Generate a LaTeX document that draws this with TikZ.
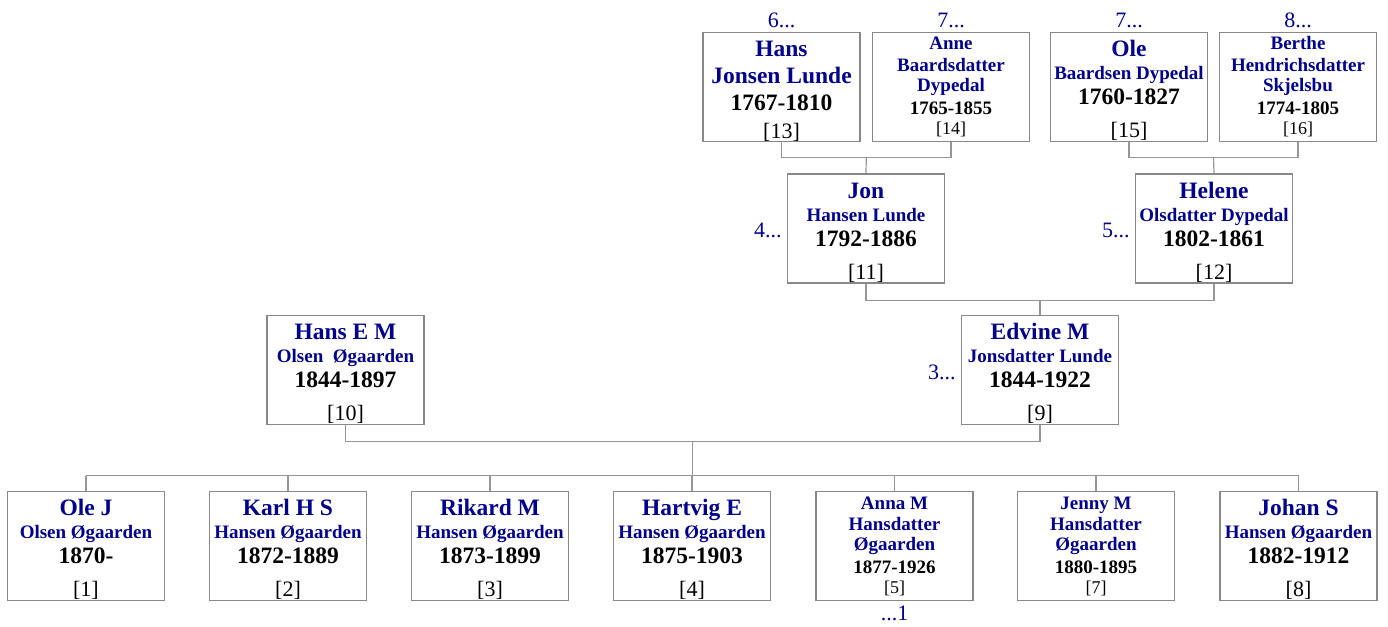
\documentclass[tikz,border=0pt]{standalone}
\usepackage{fontspec}
\setmainfont{Liberation Serif}
\usepackage{tikz}
\usetikzlibrary{positioning}
\usetikzlibrary{calc}

\definecolor{tblue}{RGB}{0,0,139}
\definecolor{boxgray}{RGB}{136,136,136}
\definecolor{linegray}{RGB}{150,150,150}

% lines inside a box
\newcommand{\pline}[2]{\fontsize{#1}{#2}\selectfont\spaceskip=.25em\relax}
\newcommand{\pname}[2][26]{{\pline{23.5}{#1}\bfseries\color{tblue}#2\par}}
\newcommand{\psur}[2][23]{{\pline{19}{#1}\bfseries\color{tblue}#2\par}}
\newcommand{\pyears}[2][25]{{\pline{23.5}{#1}\bfseries #2\par}}
\newcommand{\pidx}[2][33]{{\pline{22}{#1}#2\par}}
\newcommand{\sname}[2][21.5]{{\pline{19}{#1}\bfseries\color{tblue}#2\par}}
\newcommand{\syears}[2][22.5]{{\pline{19}{#1}\bfseries #2\par}}
\newcommand{\sidx}[2][20]{{\pline{18}{#1}#2\par}}

\tikzset{
  person/.style={draw=boxgray, line width=1.5pt, text width=157pt, minimum height=109pt,
    inner sep=0pt, align=center, text height=24pt, text depth=85pt},
  small/.style={person, text height=17.5pt, text depth=91.5pt},
  link/.style={draw=linegray, line width=1.2pt},
  more/.style={text=tblue, font=\fontsize{22}{22}\selectfont, inner sep=0pt}
}

\begin{document}
\begin{tikzpicture}[x=1pt,y=-1pt]
        \useasboundingbox (0,0) rectangle (1388,626);

        % great-grandparents
        \node[person] (p13) at (781.5,87) {\pname{Hans}\pname[26.5]{Jonsen Lunde}\pyears[27]{1767-1810}\pidx[28.5]{[13]}};
        \node[small] (p14) at (951,87) {\sname{Anne}\sname{Baardsdatter}\sname[20]{Dypedal}\syears{1765-1855}\sidx{[14]}};
        \node[person] (p15) at (1129,87) {\pname{Ole}\psur{Baardsen Dypedal}\pyears{1760-1827}\pidx{[15]}};
        \node[small] (p16) at (1298,87) {\sname{Berthe}\sname{Hendrichsdatter}\sname[20]{Skjelsbu}\syears{1774-1805}\sidx{[16]}};

        % grandparents
        \node[person] (p11) at (866,228.5) {\pname{Jon}\psur{Hansen Lunde}\pyears{1792-1886}\pidx{[11]}};
        \node[person] (p12) at (1214,228.5) {\pname{Helene}\psur{Olsdatter Dypedal}\pyears{1802-1861}\pidx{[12]}};

        % parents
        \node[person] (p10) at (345.5,370) {\pname{Hans E M}\psur{Olsen~~Øgaarden}\pyears{1844-1897}\pidx{[10]}};
        \node[person] (p9) at (1040,370) {\pname{Edvine M}\psur{Jonsdatter Lunde}\pyears{1844-1922}\pidx{[9]}};

        % children
        \node[person] (p1) at (86,546) {\pname{Ole J}\psur{Olsen Øgaarden}\pyears{1870-}\pidx{[1]}};
        \node[person] (p2) at (288,546) {\pname{Karl H S}\psur{Hansen Øgaarden}\pyears{1872-1889}\pidx{[2]}};
        \node[person] (p3) at (490,546) {\pname{Rikard M}\psur{Hansen Øgaarden}\pyears{1873-1899}\pidx{[3]}};
        \node[person] (p4) at (692,546) {\pname{Hartvig E}\psur{Hansen Øgaarden}\pyears{1875-1903}\pidx{[4]}};
        \node[small] (p5) at (894.5,546) {\sname{Anna M}\sname{Hansdatter}\sname[20]{Øgaarden}\syears{1877-1926}\sidx{[5]}};
        \node[small] (p7) at (1096,546) {\sname{Jenny M}\sname{Hansdatter}\sname[20]{Øgaarden}\syears{1880-1895}\sidx{[7]}};
        \node[person] (p8) at (1298.5,546) {\pname{Johan S}\psur{Hansen Øgaarden}\pyears{1882-1912}\pidx{[8]}};

        % more generations
        \node[more, above=4pt of p13] (m13) {6...};
        \node[more, above=4pt of p14] (m14) {7...};
        \node[more, above=4pt of p15] (m15) {7...};
        \node[more, above=4pt of p16] (m16) {8...};
        \node[more, left=5pt of p11, yshift=-1.5pt] (m11) {4...};
        \node[more, left=5pt of p12, yshift=-1.5pt] (m12) {5...};
        \node[more, left=5pt of p9, yshift=-2pt] (m9) {3...};
        \node[more, below=5pt of p5] (m5) {...1};

        % couples
        \coordinate (f13) at ($(p13.south)!.5!(p14.south)+(0,15.5)$);
        \coordinate (f15) at ($(p15.south)!.5!(p16.south)+(0,15.5)$);
        \coordinate (f11) at ($(p11.south)!.5!(p12.south)+(0,17)$);
        \coordinate (f10) at ($(p10.south)!.5!(p9.south)+(0,16)$);

        \draw[link] (p13.south) |- (f13) -| (p14.south);
        \draw[link] (f13) -- (p11.north);
        \draw[link] (p15.south) |- (f15) -| (p16.south);
        \draw[link] (f15) -- (p12.north);
        \draw[link] (p11.south) |- (f11) -| (p12.south);
        \draw[link] (f11) -- (p9.north);
        \draw[link] (p10.south) |- (f10) -| (p9.south);
        \draw[link] (f10) -- ++(0,34.5) coordinate (bus);

        \draw[link] (p1.north |- bus) -- (p8.north |- bus);
        \foreach \c in {1,2,3,4,5,7,8}
          \draw[link] (p\c.north) -- (p\c.north |- bus);
      \end{tikzpicture}
\end{document}
